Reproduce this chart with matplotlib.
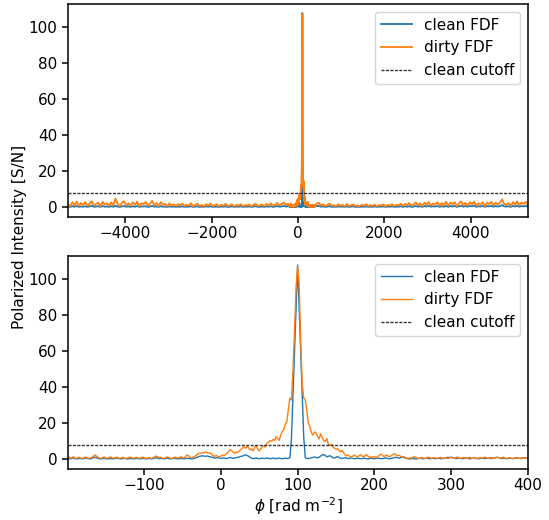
import numpy as np
import matplotlib
matplotlib.use("Agg")
import matplotlib.pyplot as plt

# Faraday depth grids (rad m^-2): coarse outer range, fine range around the source
phi_left = np.arange(-5330, -229, 50)
phi_zoom = np.arange(-200, 401, 2)
phi_right = np.arange(430, 5331, 50)

dirty_left = [
    1.6, 0.5, 2.8, 1.1, 3.2, 0.7, 2.4, 1.3, 2.9, 0.6,
    2.1, 3.4, 0.9, 1.8, 2.6, 0.4, 3.0, 1.5, 2.3, 0.8,
    2.7, 1.2, 4.9, 1.9, 0.6, 2.5, 3.3, 1.0, 2.2, 0.7,
    2.8, 1.4, 3.1, 0.5, 2.3, 1.7, 2.9, 0.8, 2.0, 3.5,
    1.1, 2.4, 0.6, 2.9, 1.3, 1.9, 0.5, 2.2, 1.0, 1.7,
    0.4, 1.8, 1.1, 2.0, 0.6, 1.5, 0.9, 2.3, 0.5, 1.4,
    1.9, 0.7, 1.3, 0.4, 1.7, 1.0, 2.1, 0.6, 1.2, 1.6,
    0.5, 1.4, 0.8, 1.9, 0.6, 1.1, 1.7, 0.4, 1.3, 0.9,
    1.8, 0.6, 1.2, 0.9, 1.6, 0.5, 1.4, 2.0, 0.7, 1.1,
    1.5, 0.6, 1.9, 1.0, 2.2, 0.8, 1.4, 2.4, 1.1, 1.8,
    2.6, 1.2, 2.0,
]
clean_left = [
    0.4, 0.2, 0.6, 0.3, 0.7, 0.2, 0.5, 0.3, 0.6, 0.2,
    0.5, 0.8, 0.3, 0.4, 0.6, 0.2, 0.7, 0.3, 0.5, 0.2,
    0.6, 0.3, 0.9, 0.4, 0.2, 0.5, 0.7, 0.3, 0.5, 0.2,
    0.6, 0.3, 0.7, 0.2, 0.5, 0.4, 0.6, 0.2, 0.4, 0.8,
    0.3, 0.5, 0.2, 0.6, 0.3, 0.4, 0.2, 0.5, 0.3, 0.4,
    0.2, 0.4, 0.3, 0.5, 0.2, 0.4, 0.3, 0.6, 0.2, 0.4,
    0.5, 0.2, 0.4, 0.2, 0.5, 0.3, 0.6, 0.2, 0.3, 0.4,
    0.2, 0.4, 0.3, 0.5, 0.2, 0.3, 0.5, 0.2, 0.4, 0.3,
    0.5, 0.2, 0.4, 0.3, 0.5, 0.2, 0.4, 0.6, 0.2, 0.3,
    0.4, 0.2, 0.5, 0.3, 0.6, 0.2, 0.4, 0.7, 0.3, 0.5,
    0.7, 0.4, 0.6,
]

dirty_zoom = [
    0.8, 1.2, 0.6, 0.9, 1.4, 0.7, 0.4, 0.9, 1.1, 0.6,
    0.5, 0.9, 1.3, 0.8, 0.4, 0.7, 1.0, 1.6, 2.3, 1.8,
    1.2, 0.7, 0.5, 0.9, 1.2, 0.8, 0.5, 0.9, 1.3, 1.0,
    0.6, 0.8, 1.2, 0.9, 0.5, 0.7, 1.1, 0.8, 0.4, 0.6,
    1.0, 1.3, 0.9, 0.5, 0.8, 1.1, 0.7, 0.4, 0.8, 1.2,
    0.9, 0.5, 0.6, 1.0, 0.7, 0.5, 0.9, 1.4, 1.8, 1.3,
    0.8, 1.1, 0.7, 0.5, 0.9, 1.3, 1.0, 0.6, 0.4, 0.8,
    1.2, 0.9, 0.6, 1.0, 1.4, 1.1, 0.7, 1.5, 2.4, 1.9,
    1.1, 0.8, 1.2, 1.6, 2.2, 2.9, 3.4, 3.2, 3.8, 3.6,
    4.1, 3.7, 3.3, 3.6, 2.8, 2.0, 1.6, 2.2, 1.5, 1.3,
    1.7, 2.4, 2.0, 2.6, 3.3, 4.2, 5.3, 4.8, 3.9, 3.4,
    4.1, 3.8, 4.6, 5.4, 6.2, 6.8, 6.1, 7.1, 6.5, 5.2,
    5.8, 4.6, 6.7, 7.6, 5.6, 4.6, 5.7, 6.9, 7.4, 6.8,
    8.9, 9.5, 10.4, 10.0, 11.0, 10.5, 12.5, 11.5, 10.5, 13.5,
    15.5, 16.5, 19.5, 21.0, 28.0, 34.0, 33.0, 50.0, 72.0, 96.0,
    107.5, 98.0, 66.0, 42.0, 34.0, 33.0, 27.0, 19.8, 18.2, 14.8,
    13.4, 15.2, 14.6, 12.8, 11.3, 14.2, 12.1, 10.4, 9.8, 11.5,
    8.4, 7.6, 8.3, 6.9, 6.2, 5.6, 5.9, 4.8, 4.2, 4.9,
    3.6, 2.5, 1.9, 2.4, 1.6, 1.3, 1.8, 2.3, 1.7, 1.2,
    2.0, 2.6, 1.8, 1.3, 2.1, 2.5, 1.6, 1.0, 1.4, 1.1,
    1.5, 1.0, 1.3, 2.2, 2.8, 2.3, 1.6, 1.9, 2.4, 1.7,
    1.4, 2.0, 2.7, 3.1, 2.6, 1.9, 2.3, 1.7, 1.2, 1.5,
    1.1, 0.7, 0.5, 0.8, 0.6, 1.0, 1.4, 1.1, 0.6, 0.4,
    0.7, 1.0, 0.6, 0.4, 0.8, 1.2, 0.9, 0.5, 0.7, 1.0,
    0.6, 0.4, 0.8, 1.1, 0.7, 0.5, 0.9, 0.6, 0.4, 0.8,
    1.0, 0.7, 0.5, 0.9, 1.3, 0.8, 0.5, 0.7, 1.0, 0.6,
    0.4, 0.8, 1.1, 0.7, 0.5, 0.9, 0.6, 0.4, 0.7, 1.0,
    0.6, 0.9, 1.2, 0.8, 0.5, 0.7, 1.0, 0.6, 0.4, 0.8,
    1.1, 0.8, 0.5, 0.9, 1.2, 0.7, 0.4, 0.6, 0.9, 0.6,
    0.4, 0.7, 1.0, 0.8, 0.5, 0.6, 0.9, 0.7, 0.4, 0.6,
    0.8,
]
clean_zoom = [
    0.6, 0.4, 0.2, 0.5, 0.7, 0.4, 0.2, 0.3, 0.6, 0.4,
    0.2, 0.4, 0.7, 0.5, 0.3, 0.2, 0.4, 0.9, 1.2, 0.8,
    0.5, 0.3, 0.2, 0.4, 0.6, 0.4, 0.2, 0.3, 0.5, 0.3,
    0.2, 0.4, 0.6, 0.5, 0.3, 0.2, 0.4, 0.6, 0.3, 0.2,
    0.3, 0.5, 0.4, 0.2, 0.3, 0.6, 0.4, 0.2, 0.3, 0.5,
    0.4, 0.2, 0.3, 0.5, 0.3, 0.2, 0.4, 0.7, 0.9, 0.6,
    0.3, 0.5, 0.4, 0.2, 0.4, 0.6, 0.4, 0.2, 0.3, 0.5,
    0.6, 0.4, 0.2, 0.3, 0.5, 0.4, 0.3, 0.4, 0.6, 0.5,
    0.3, 0.2, 0.4, 0.6, 0.9, 1.3, 1.6, 1.8, 1.9, 1.8,
    1.7, 1.8, 1.6, 1.4, 1.2, 0.9, 0.6, 0.8, 1.0, 0.7,
    0.5, 0.6, 0.8, 0.5, 0.4, 0.7, 1.0, 0.8, 0.5, 0.7,
    0.9, 1.0, 1.3, 1.6, 1.8, 2.1, 2.4, 2.2, 1.7, 1.1,
    0.6, 0.4, 0.5, 0.7, 0.5, 0.3, 0.5, 0.6, 0.4, 0.5,
    0.7, 0.5, 0.3, 0.4, 0.6, 0.5, 0.3, 0.5, 0.7, 0.4,
    0.3, 0.5, 0.6, 0.4, 0.5, 0.9, 12.0, 36.0, 60.0, 84.0,
    108.0, 84.0, 60.0, 36.0, 12.0, 0.8, 0.5, 0.4, 0.6, 0.8,
    1.0, 1.3, 1.0, 0.8, 1.2, 1.8, 2.4, 2.6, 2.1, 1.4,
    1.6, 2.0, 1.5, 0.9, 0.7, 1.1, 1.5, 1.0, 0.6, 0.5,
    0.7, 0.9, 0.6, 0.4, 0.5, 0.7, 0.5, 0.3, 0.4, 0.6,
    0.5, 0.3, 0.4, 0.6, 0.5, 0.3, 0.2, 0.4, 0.6, 0.4,
    0.3, 0.5, 0.7, 0.6, 0.4, 0.3, 0.5, 0.8, 0.6, 0.4,
    0.3, 0.5, 0.7, 0.9, 1.1, 0.8, 0.6, 0.9, 1.2, 1.0,
    0.7, 0.5, 0.3, 0.2, 0.3, 0.4, 0.3, 0.2, 0.3, 0.5,
    0.6, 0.4, 0.3, 0.5, 0.7, 0.5, 0.3, 0.4, 0.6, 0.4,
    0.3, 0.5, 0.6, 0.4, 0.3, 0.5, 0.7, 0.9, 1.1, 0.8,
    1.2, 0.9, 0.6, 0.4, 0.5, 0.7, 0.5, 0.3, 0.4, 0.6,
    0.7, 0.5, 0.3, 0.4, 0.6, 0.8, 0.6, 0.4, 0.3, 0.5,
    0.7, 0.5, 0.4, 0.6, 0.8, 0.6, 0.4, 0.5, 0.7, 0.9,
    1.1, 0.8, 0.5, 0.4, 0.6, 0.5, 0.3, 0.4, 0.6, 0.5,
    0.4, 0.5, 0.7, 0.9, 0.6, 0.4, 0.5, 0.7, 0.8, 0.6,
    0.9,
]

dirty_right = [
    1.9, 2.6, 1.0, 1.7, 0.6, 1.4, 2.1, 0.8, 1.2, 0.5,
    1.6, 0.9, 1.3, 0.4, 1.8, 0.7, 1.2, 1.5, 0.6, 1.1,
    0.5, 1.4, 0.9, 1.7, 0.6, 1.2, 0.8, 1.5, 0.4, 1.3,
    1.0, 1.6, 0.5, 1.3, 0.9, 1.8, 0.6, 1.4, 1.1, 2.0,
    0.7, 1.9, 1.2, 2.4, 0.8, 1.6, 2.7, 1.0, 2.2, 0.6,
    2.5, 1.3, 3.0, 0.9, 2.1, 1.6, 2.8, 0.7, 2.4, 1.2,
    3.1, 0.8, 2.6, 1.5, 2.9, 0.6, 2.2, 3.3, 1.1, 2.5,
    0.9, 2.8, 1.7, 3.2, 0.7, 2.3, 1.4, 2.9, 0.5, 2.6,
    1.8, 3.0, 1.1, 2.5, 1.6, 2.7, 4.4, 1.8, 1.3, 2.4,
    0.7, 2.9, 1.5, 3.3, 1.0, 2.6, 1.9, 3.0, 1.2,
]
clean_right = [
    0.6, 0.8, 0.3, 0.5, 0.2, 0.4, 0.6, 0.2, 0.4, 0.2,
    0.5, 0.3, 0.4, 0.2, 0.5, 0.2, 0.4, 0.5, 0.2, 0.3,
    0.2, 0.4, 0.3, 0.5, 0.2, 0.4, 0.2, 0.5, 0.2, 0.4,
    0.3, 0.5, 0.2, 0.4, 0.3, 0.5, 0.2, 0.4, 0.3, 0.6,
    0.2, 0.5, 0.3, 0.6, 0.2, 0.4, 0.7, 0.3, 0.6, 0.2,
    0.7, 0.4, 0.8, 0.3, 0.6, 0.4, 0.7, 0.2, 0.6, 0.3,
    0.8, 0.2, 0.7, 0.4, 0.8, 0.2, 0.6, 0.9, 0.3, 0.7,
    0.3, 0.8, 0.5, 0.9, 0.2, 0.6, 0.4, 0.8, 0.2, 0.7,
    0.5, 0.8, 0.3, 0.7, 0.4, 0.7, 1.2, 0.5, 0.4, 0.6,
    0.2, 0.8, 0.4, 0.9, 0.3, 0.7, 0.5, 0.8, 0.3,
]

cutoff = 8.0

phi = np.concatenate([phi_left, phi_zoom, phi_right])
dirty = np.concatenate([dirty_left, dirty_zoom, dirty_right])
clean = np.concatenate([clean_left, clean_zoom, clean_right])

plt.rcParams.update({
    "font.size": 11,
    "axes.linewidth": 1.1,
    "xtick.major.size": 4.3,
    "ytick.major.size": 4.3,
    "xtick.major.width": 1.1,
    "ytick.major.width": 1.1,
    "xtick.major.pad": 2.5,
    "legend.fontsize": 11,
})

fig = plt.figure(figsize=(5.49, 5.2), dpi=100)
ax1 = fig.add_axes([0.1239, 0.5827, 0.8378, 0.4096])
ax2 = fig.add_axes([0.1239, 0.0981, 0.8378, 0.4096])

for ax, lw in ((ax1, 1.3), (ax2, 1.0)):
    ax.plot(phi, clean, color="tab:blue", lw=lw, label="clean FDF")
    ax.plot(phi, dirty, color="tab:orange", lw=lw, label="dirty FDF")
    ax.axhline(cutoff, color="0.2", ls=(0, (2.2, 1.0)), lw=1.0,
               label="clean cutoff")
    ax.set_ylim(-5.4, 113)
    ax.set_yticks([0, 20, 40, 60, 80, 100])
    ax.legend(loc="upper right")

ax1.set_xlim(-5330, 5330)
ax1.set_xticks([-4000, -2000, 0, 2000, 4000])
ax2.set_xlim(-199, 400)
ax2.set_xticks([-100, 0, 100, 200, 300, 400])
ax2.set_xlabel(r"$\phi$ [rad m$^{-2}$]", labelpad=1.5)

fig.text(0.035, 0.545, "Polarized Intensity [S/N]", rotation=90,
         ha="center", va="center")

fig.savefig("out.png", dpi=100)
